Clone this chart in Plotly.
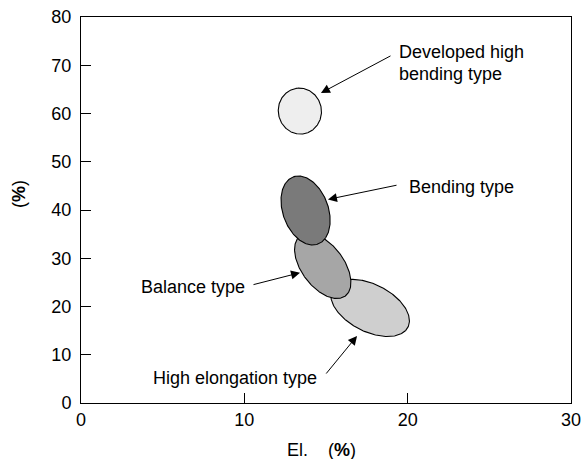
import numpy as np
import plotly.graph_objects as go

# ---- data ----
types = ["Developed high bending type", "High elongation type", "Balance type", "Bending type"]
center_el = [13.4, 17.7, 14.8, 13.75]
center_y = [60.5, 19.7, 28.4, 39.9]
major_el = [1.41, 2.60, 2.30, 2.19]     # semi-major axis, in El units (screen-equivalent)
minor_el = [1.32, 1.45, 1.29, 1.39]     # semi-minor axis
tilt_deg = [100, 153, 127, 110]
fills = ["#eeeeee", "#cfcfcf", "#a6a6a6", "#7a7a7a"]

x_ticks = [0, 10, 20, 30]
y_ticks = [0, 10, 20, 30, 40, 50, 60, 70, 80]

label_text = ["Developed high", "bending type", "Bending type", "Balance type", "High elongation type"]
label_x = [19.35, 19.35, 19.96, 3.55, 4.3]
label_y = [72.7, 68.2, 44.8, 24.1, 5.1]

arrow_tail_x = [19.04, 19.41, 10.47, 14.94]
arrow_tail_y = [72.1, 45.2, 24.46, 5.8]
arrow_head_x = [14.69, 15.12, 13.41, 16.9]
arrow_head_y = [64.25, 42.2, 27.0, 13.9]

# ---- layout geometry ----
W, H = 582, 459
margin = dict(l=81, r=11, t=17, b=56)
plot_w = W - margin["l"] - margin["r"]
plot_h = H - margin["t"] - margin["b"]
px_per_x = plot_w / (x_ticks[-1] - x_ticks[0])
px_per_y = plot_h / (y_ticks[-1] - y_ticks[0])
ratio = px_per_x / px_per_y

FONT = "Liberation Sans, Arial, sans-serif"

fig = go.Figure()
t = np.linspace(0, 2 * np.pi, 241)
for name, cx, cy, a, b, ang, col in zip(types, center_el, center_y, major_el, minor_el, tilt_deg, fills):
    th = np.deg2rad(ang)
    u = a * np.cos(t)
    v = b * np.sin(t)
    xs = u * np.cos(th) - v * np.sin(th)
    ys = u * np.sin(th) + v * np.cos(th)
    fig.add_trace(go.Scatter(
        x=cx + xs, y=cy + ys * ratio, mode="lines", fill="toself",
        fillcolor=col, line=dict(color="black", width=1.1), name=name,
        showlegend=False, hoverinfo="name"))

annotations = []
for txt, lx, ly in zip(label_text, label_x, label_y):
    annotations.append(dict(x=lx, y=ly, xref="x", yref="y", text=txt, showarrow=False,
                            xanchor="left", yanchor="middle",
                            font=dict(family=FONT, size=18, color="black")))
for tx, ty, hx, hy in zip(arrow_tail_x, arrow_tail_y, arrow_head_x, arrow_head_y):
    annotations.append(dict(x=hx, y=hy, ax=tx, ay=ty, xref="x", yref="y", axref="x", ayref="y",
                            text="", showarrow=True, arrowhead=2, arrowsize=1.8, arrowwidth=1,
                            arrowcolor="black", standoff=0, startstandoff=0))
# axis titles
annotations.append(dict(x=(321 - margin["l"]) / plot_w, y=-(450 - (H - margin["b"])) / plot_h,
                        xref="paper", yref="paper", text="El.&nbsp;&nbsp;&nbsp;&nbsp;(<b>%</b>)",
                        showarrow=False, xanchor="center", yanchor="middle",
                        font=dict(family=FONT, size=18, color="black")))
annotations.append(dict(x=(19 - margin["l"]) / plot_w, y=((H - margin["b"]) - 194) / plot_h,
                        xref="paper", yref="paper", text="(<b>%</b>)", textangle=-90,
                        showarrow=False, xanchor="center", yanchor="middle",
                        font=dict(family=FONT, size=18, color="black")))

axis_common = dict(showgrid=False, zeroline=False, showline=True, linecolor="black", linewidth=1,
                   mirror=True, ticks="inside", ticklen=10, tickwidth=1, tickcolor="black",
                   automargin=False,
                   tickfont=dict(family=FONT, size=18, color="black"))
fig.update_xaxes(range=[x_ticks[0], x_ticks[-1]], tickvals=x_ticks, **axis_common)
fig.update_yaxes(range=[y_ticks[0], y_ticks[-1]], tickvals=y_ticks, ticklabelstandoff=5, **axis_common)

fig.update_layout(width=W, height=H, margin=margin, autosize=False,
                  plot_bgcolor="white", paper_bgcolor="white",
                  annotations=annotations, showlegend=False)

fig.write_html("out.html")
